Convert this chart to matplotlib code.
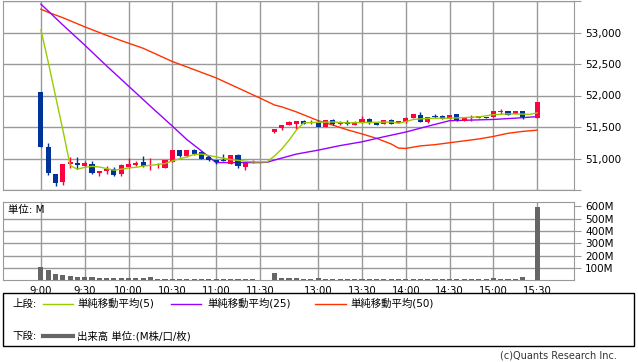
import matplotlib
matplotlib.use("Agg")
import matplotlib.pyplot as plt
from matplotlib.lines import Line2D
from matplotlib.patches import Rectangle

plt.rcParams['font.family'] = ['DejaVu Sans', 'Noto Sans CJK JP']

# 5-minute bars, x = slot number (9:00 = 0, one slot per 5 minutes, lunch break skipped)
candle_slots = list(range(0, 30)) + list(range(32, 67)) + [68]
opens = [52050, 51182, 50748, 50624, 50908, 50936, 50881, 50920, 50763, 50796,
         50839, 50752, 50865, 50892, 50941, 50905, 50903, 50855, 50946, 51134,
         51037, 51134, 51102, 51027, 50973, 50962, 50920, 51048, 50866, 50950,
         51425, 51479, 51532, 51554, 51596, 51560, 51575, 51500, 51618, 51543,
         51575, 51532, 51575, 51629, 51564, 51543, 51618, 51564, 51575, 51639,
         51693, 51575, 51672, 51672, 51629, 51704, 51596, 51650, 51640, 51661,
         51661, 51740, 51747, 51704, 51747, 51637]
highs = [52050, 51241, 50748, 50907, 51016, 51016, 50960, 50968, 50807, 50881,
         50865, 50910, 51010, 50960, 51037, 51005, 50936, 50984, 51140, 51140,
         51140, 51145, 51123, 51054, 50980, 51070, 51050, 51070, 50935, 50973,
         51470, 51535, 51596, 51600, 51605, 51605, 51618, 51615, 51620, 51596,
         51607, 51590, 51672, 51635, 51570, 51610, 51622, 51600, 51655, 51706,
         51736, 51665, 51704, 51693, 51697, 51708, 51654, 51693, 51676, 51664,
         51750, 51779, 51750, 51757, 51750, 51889]
lows = [51177, 50743, 50560, 50582, 50849, 50833, 50860, 50760, 50720, 50759,
        50720, 50720, 50850, 50880, 50870, 50812, 50850, 50850, 50940, 51030,
        51030, 51060, 50995, 50962, 50920, 50957, 50915, 50855, 50823, 50930,
        51403, 51457, 51525, 51468, 51550, 51550, 51495, 51495, 51532, 51530,
        51535, 51525, 51570, 51543, 51525, 51540, 51543, 51560, 51570, 51635,
        51575, 51570, 51640, 51625, 51625, 51600, 51592, 51596, 51636, 51636,
        51657, 51704, 51690, 51700, 51629, 51637]
closes = [51177, 50768, 50608, 50907, 50952, 50892, 50924, 50768, 50807, 50839,
          50736, 50897, 50908, 50936, 50877, 50915, 50908, 50973, 51134, 51037,
          51134, 51070, 51000, 50973, 50941, 50957, 51048, 50877, 50930, 50962,
          51468, 51532, 51575, 51596, 51554, 51580, 51500, 51607, 51554, 51575,
          51543, 51586, 51629, 51564, 51532, 51607, 51543, 51596, 51650, 51704,
          51575, 51661, 51661, 51629, 51693, 51607, 51650, 51660, 51672, 51640,
          51747, 51750, 51693, 51747, 51661, 51889]

# moving averages (slot, value)
sma5_slots = [0, 1, 2, 3, 4, 5, 6, 7, 8, 9, 10, 11, 12, 13, 14, 15, 16, 17, 18, 19,
              20, 21, 22, 23, 24, 25, 26, 27, 28, 29, 31, 32, 33, 34, 35, 36, 38, 40,
              42, 44, 46, 48, 49, 50, 51, 52, 54, 56, 58, 60, 62, 64, 66, 67, 68]
sma5 = [53040, 52530, 51990, 51455, 50890, 50830, 50860, 50875, 50865, 50840,
        50815, 50830, 50850, 50860, 50880, 50892, 50905, 50920, 50962, 50994,
        51027, 51064, 51070, 51048, 51027, 51005, 50984, 50970, 50957, 50946,
        50946, 51040, 51150, 51290, 51450, 51565, 51575, 51580, 51565, 51570,
        51575, 51580, 51560, 51586, 51618, 51629, 51640, 51640, 51650, 51661,
        51695, 51709, 51705, 51700, 51725]
sma25_slots = [0, 3, 6, 9, 12, 15, 18, 20, 22, 24, 26, 28, 30, 31, 32, 35, 38, 41,
               44, 47, 50, 53, 56, 59, 62, 65, 68]
sma25 = [53450, 53120, 52800, 52470, 52150, 51830, 51515, 51300, 51120, 50935,
         50935, 50935, 50935, 50940, 50975, 51070, 51133, 51205, 51265, 51345,
         51420, 51512, 51600, 51610, 51620, 51640, 51665]
sma50_slots = [0, 1, 3, 6, 9, 12, 14, 18, 21, 24, 27, 30, 32, 33, 35, 38, 40, 42,
               44, 46, 48, 49, 50, 52, 54, 56, 58, 60, 62, 64, 66, 68]
sma50 = [53370, 53320, 53235, 53090, 52955, 52830, 52750, 52540, 52410, 52280,
         52120, 51960, 51850, 51820, 51740, 51600, 51530, 51455, 51390, 51320,
         51230, 51165, 51160, 51200, 51220, 51250, 51280, 51310, 51350, 51400,
         51430, 51450]

# volume in M
vol_slots = list(range(0, 31)) + list(range(32, 67)) + [68]
volumes = [107, 82, 50, 42, 33, 26, 26, 26, 18, 18, 18, 18, 18, 18, 18, 26,
           9, 8, 8, 9, 8, 8, 8, 7, 8, 8, 8, 7, 7, 7, 3,
           60, 18, 18, 18, 9, 9, 18, 9, 9, 9, 9, 9, 9, 9, 9, 9, 9, 9, 9, 9,
           9, 9, 9, 9, 9, 9, 9, 9, 9, 9, 18, 9, 9, 9, 27,
           595]

time_slots = [0, 6, 12, 18, 24, 30, 38, 44, 50, 56, 62, 68]
time_labels = ['9:00', '9:30', '10:00', '10:30', '11:00', '11:30',
               '13:00', '13:30', '14:00', '14:30', '15:00', '15:30']
price_ticks = [51000, 51500, 52000, 52500, 53000]
vol_ticks = [100, 200, 300, 400, 500, 600]

UP, DOWN = '#ff0040', '#003399'
GRID = '#999999'

W, H = 638, 362
def box(l, t, r, b):
    return [l / W, 1 - b / H, (r - l) / W, (b - t) / H]

fig = plt.figure(figsize=(W / 100, H / 100), dpi=100)
ax = fig.add_axes(box(3, 1, 574, 190))
axv = fig.add_axes(box(3, 202, 574, 280.3))

xmin, xmax = -5.2, 73.05
for a in (ax, axv):
    a.set_xlim(xmin, xmax)
    for s in a.spines.values():
        s.set_color(GRID)
    a.set_xticks(time_slots)
    a.yaxis.tick_right()
    a.tick_params(axis='x', length=0)
    a.tick_params(axis='y', length=5, color=GRID, labelsize=7.5, pad=3)
    a.grid(True, color=GRID, linewidth=1)
    a.set_axisbelow(True)

# price panel
ax.set_ylim(50500, 53500)
ax.set_yticks([50500] + price_ticks + [53500])
ax.set_yticklabels([''] + [f'{p:,}' for p in price_ticks] + [''])
ax.tick_params(axis='x', labelbottom=False)

ax.plot(sma50_slots, sma50, color='#ff3300', lw=1, zorder=2)
ax.plot(sma25_slots, sma25, color='#9900ff', lw=1, zorder=2)

for s, o, h, l, c in zip(candle_slots, opens, highs, lows, closes):
    col = UP if c >= o else DOWN
    ax.vlines(s, l, h, color=col, lw=1, zorder=3)
    ax.bar(s, max(abs(c - o), 14), bottom=min(o, c), width=0.7,
           color=col, linewidth=0, zorder=4)

ax.plot(sma5_slots, sma5, color='#99cc00', lw=1, zorder=5)

# volume panel
axv.set_ylim(0, 634)
axv.set_yticks(vol_ticks)
axv.set_yticklabels([f'{v}M' for v in vol_ticks])
axv.yaxis.get_gridlines()[-1].set_visible(False)
axv.set_xticklabels(time_labels, fontsize=7.3)
axv.tick_params(axis='x', pad=4)
axv.bar(vol_slots, volumes, width=0.7, color='#666666', linewidth=0, zorder=3)
axv.text(0.009, 0.9, '単位: M', transform=axv.transAxes, fontsize=7.5,
         ha='left', va='center')

# legend box
def fx(x): return x / W
def fy(y): return 1 - y / H

fig.add_artist(Rectangle((fx(3), fy(346)), fx(631), 53 / H, transform=fig.transFigure,
                         fill=False, edgecolor='black', linewidth=1))
row1, row2 = 303.5, 336
fig.text(fx(12), fy(row1), '上段:', fontsize=7.5, va='center')
for (x0, x1), col, tx, lbl in [((43, 73), '#99cc00', 77, '単純移動平均(5)'),
                               ((171, 201), '#9900ff', 207, '単純移動平均(25)'),
                               ((315, 346), '#ff3300', 350, '単純移動平均(50)')]:
    fig.add_artist(Line2D([fx(x0), fx(x1)], [fy(row1), fy(row1)],
                          transform=fig.transFigure, color=col, lw=1))
    fig.text(fx(tx), fy(row1), lbl, fontsize=7.5, va='center')
fig.text(fx(12), fy(row2), '下段:', fontsize=7.5, va='center')
fig.add_artist(Line2D([fx(43), fx(73)], [fy(row2), fy(row2)],
                      transform=fig.transFigure, color='#666666', lw=3))
fig.text(fx(77), fy(row2), '出来高 単位:(M株/口/枚)', fontsize=7.5, va='center')

fig.text(fx(617), fy(356), '(c)Quants Research Inc.', fontsize=7, ha='right',
         va='center', color='#333333')

fig.savefig('out.png', dpi=100)
